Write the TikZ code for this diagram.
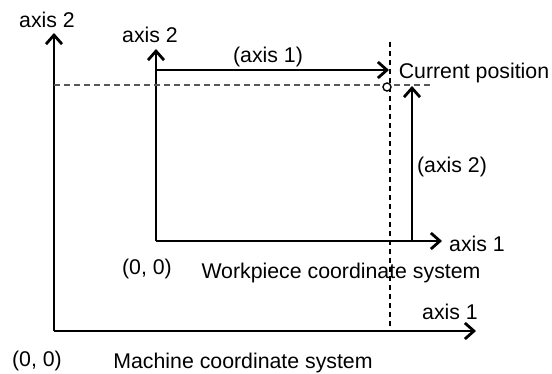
\documentclass[tikz,border=0pt]{standalone}
\usepackage{fontspec}
\setmainfont{Liberation Sans}
\usetikzlibrary{arrows.meta}
\begin{document}
\begin{tikzpicture}[x=1pt,y=-1pt,
  lbl/.style={inner sep=0pt,font=\fontsize{21.3}{25}\selectfont},
  axisline/.style={line width=2.8pt,-{Straight Barb[length=9pt,width=16pt,line width=2.8pt]}},
  guide/.style={line width=1.2pt,dash pattern=on 6pt off 4pt},
]
\useasboundingbox (0,0) rectangle (552,374);
% machine system
\coordinate (mo) at (54,331);
\coordinate (mx) at (476,331);
\coordinate (my) at (54,33);
\draw[axisline] (mo) -- (mx);
\draw[axisline] (mo) -- (my);
% workpiece system
\coordinate (wo) at (156,241);
\coordinate (wx) at (442,241);
\coordinate (wy) at (156,49);
\draw[axisline] (wo) -- (wx);
\draw[axisline] (wo) -- (wy);
% guides
\coordinate (gh1) at (54,85);
\coordinate (gh2) at (433,85);
\coordinate (gv1) at (390,42);
\coordinate (gv2) at (390,331);
\draw[guide,draw=black!65] (gh1) -- (gh2);
\draw[guide,draw=black,dash pattern=on 5pt off 4pt] (gv1) -- (gv2);
% moves
\coordinate (a1s) at (156,70);
\coordinate (a1e) at (389,70);
\draw[axisline] (a1s) -- (a1e);
\coordinate (a2s) at (412,241);
\coordinate (a2e) at (412,86);
\draw[axisline] (a2s) -- (a2e);
% current position
\node[circle,draw,line width=1.4pt,fill=white,minimum size=8pt,inner sep=0pt] (cp) at (387,87) {};
% labels
\node[lbl] (lmy) at (47,20) {axis 2};
\node[lbl] (lwy) at (150,35) {axis 2};
\node[lbl] (la1) at (268,57) {(axis 1)};
\node[lbl] (lcp) at (474,73) {Current position};
\node[lbl] (la2) at (452,167) {(axis 2)};
\node[lbl] (lwx) at (477,244) {axis 1};
\node[lbl] (lwo) at (147,269) {(0, 0)};
\node[lbl] (lws) at (341,273) {Workpiece coordinate system};
\node[lbl] (lmx) at (450,312) {axis 1};
\node[lbl] (lmo) at (37,361) {(0, 0)};
\node[lbl] (lms) at (243,363) {Machine coordinate system};
\end{tikzpicture}
\end{document}
